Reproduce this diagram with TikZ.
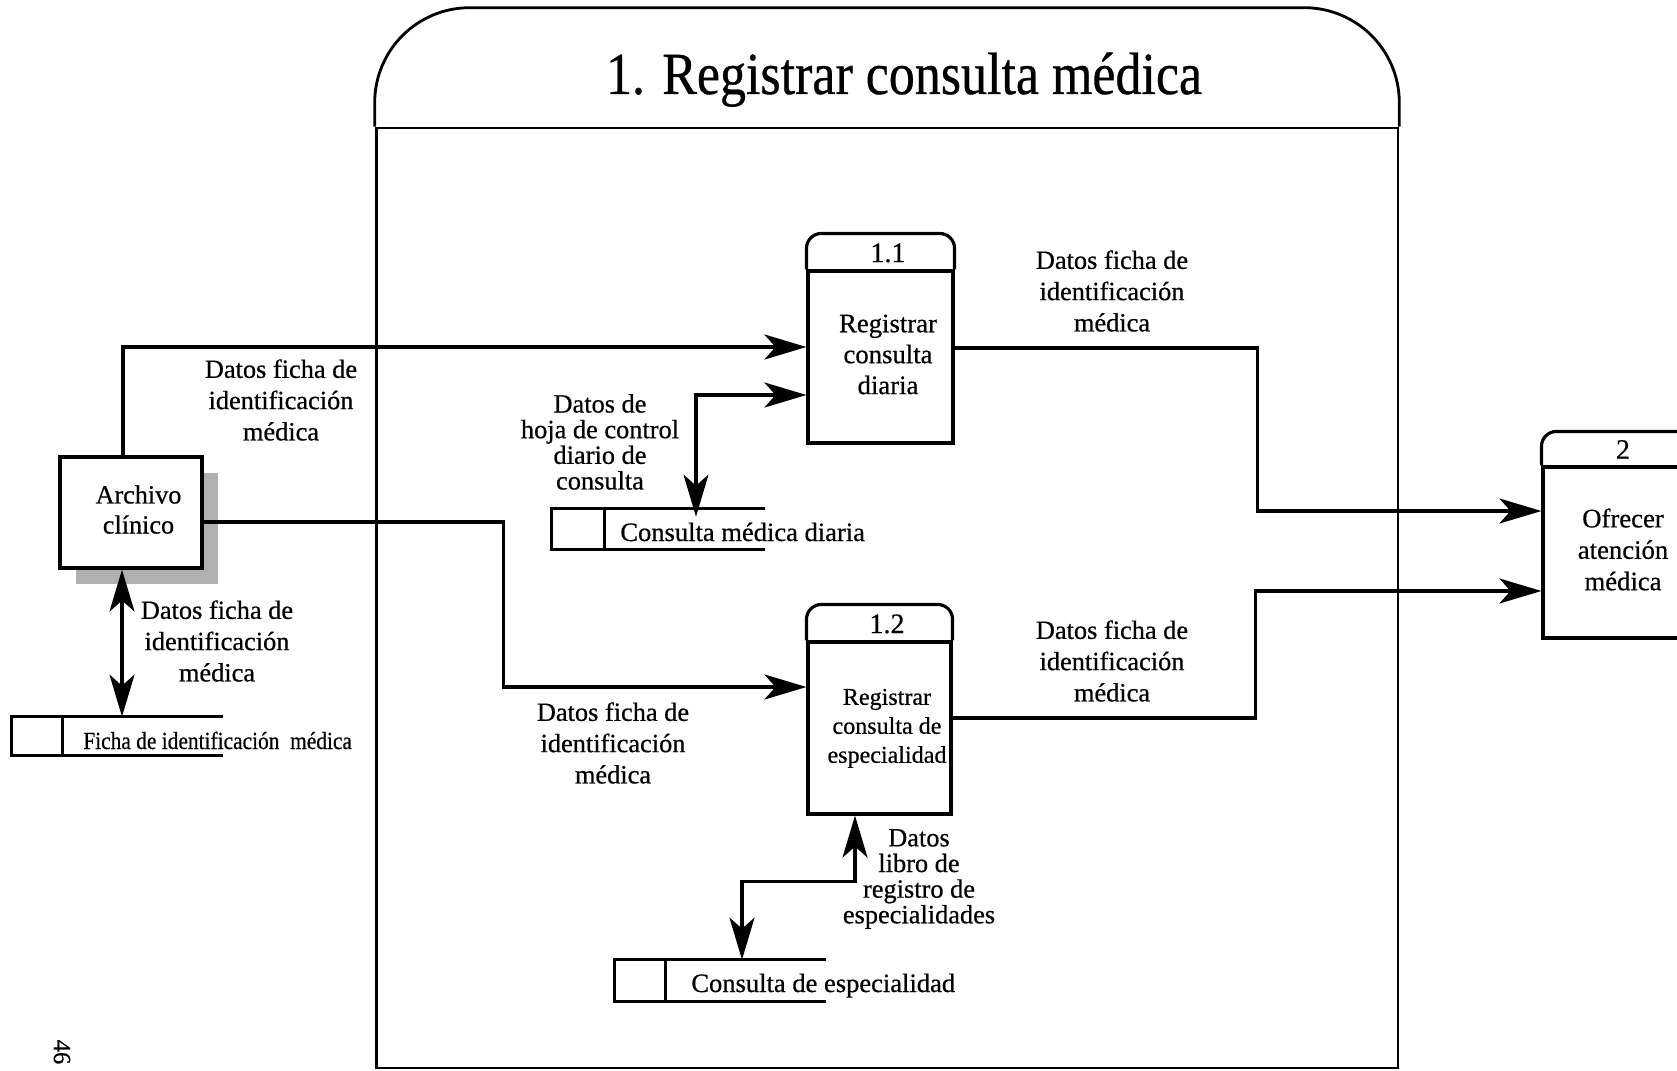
\documentclass[tikz,border=0pt]{standalone}
\usepackage{fontspec}
\setmainfont{Liberation Serif}[FakeBold=0.6]
\usepackage{graphicx}
\usetikzlibrary{arrows.meta,shadows}

% centred block of lines, nudged slightly to the right inside its box
\newcommand{\boxlines}[1]{\hspace*{0.3cm}\begin{tabular}{@{}c@{}}#1\end{tabular}}

\begin{document}
\begin{tikzpicture}[x=0.02cm,y=-0.02cm,
  >={Stealth[length=0.84cm,width=0.5cm,inset=0.22cm]},
  flow/.style={line width=1.8pt,->},
  flowboth/.style={line width=1.8pt,<->},
  box/.style={draw,line width=1.8pt,inner sep=0pt},
  hdr/.style={line width=1.8pt},
  lbl/.style={align=center,inner sep=0pt,font=\fontsize{15}{17.8}\selectfont},
  lbltight/.style={align=center,inner sep=0pt,font=\fontsize{15}{14.6}\selectfont},
  storeline/.style={line width=1.8pt},
  storebox/.style={draw=none,inner sep=0pt},
  storetext/.style={anchor=base west,inner sep=0pt,font=\fontsize{15.1}{18}\selectfont},
  num/.style={inner sep=0pt,font=\fontsize{16}{18}\selectfont},
]
\useasboundingbox (0,0) rectangle (1677,1071);
\clip (0,0) rectangle (1677,1071);

% process 1 frame
\node[draw, line width=1.6pt, minimum width=20.44cm, minimum height=18.8cm, inner sep=0pt] (c1) at (887,598) {};
\draw[line width=1.6pt] (c1.north west) -- ([yshift=0.48cm]c1.north west)
  arc[start angle=180,end angle=90,radius=1.9cm]
  -- ([xshift=-1.9cm,yshift=2.38cm]c1.north east)
  arc[start angle=90,end angle=0,radius=1.9cm] -- (c1.north east);
\node[anchor=base, inner sep=0pt, font=\fontsize{34}{40}\selectfont] (title) at (904,94)
  {\scalebox{0.87}[1]{1. Registrar consulta médica}};

% process 1.1
\node[box, minimum width=2.9cm, minimum height=3.44cm, font=\fontsize{15.2}{17.6}\selectfont] (p11) at (880.5,357)
  {\boxlines{Registrar\\consulta\\diaria}};
\draw[hdr] (p11.north west) -- ([yshift=0.42cm]p11.north west)
  arc[start angle=180,end angle=90,radius=0.3cm]
  -- ([xshift=-0.3cm,yshift=0.72cm]p11.north east)
  arc[start angle=90,end angle=0,radius=0.3cm] -- (p11.north east);
\node[num] (n11) at ([xshift=0.15cm,yshift=0.33cm]p11.north) {1.1};

% process 1.2
\node[box, minimum width=2.86cm, minimum height=3.44cm, font=\fontsize{13.7}{16.5}\selectfont] (p12) at (879.5,728)
  {\boxlines{Registrar\\consulta de\\especialidad}};
\draw[hdr] (p12.north west) -- ([yshift=0.42cm]p12.north west)
  arc[start angle=180,end angle=90,radius=0.3cm]
  -- ([xshift=-0.3cm,yshift=0.72cm]p12.north east)
  arc[start angle=90,end angle=0,radius=0.3cm] -- (p12.north east);
\node[num] (n12) at ([xshift=0.15cm,yshift=0.33cm]p12.north) {1.2};

% process 2
\node[box, minimum width=3.2cm, minimum height=3.42cm, font=\fontsize{15.2}{17.9}\selectfont] (p2) at (1623,552.5)
  {\begin{tabular}{@{}c@{}}Ofrecer\\atención\\médica\end{tabular}};
\draw[hdr] (p2.north west) -- ([yshift=0.38cm]p2.north west)
  arc[start angle=180,end angle=90,radius=0.3cm]
  -- ([xshift=-0.3cm,yshift=0.68cm]p2.north east)
  arc[start angle=90,end angle=0,radius=0.3cm] -- (p2.north east);
\node[num] (n2) at ([yshift=0.32cm]p2.north) {2};

% external entity
\node[box, fill=white, minimum width=2.84cm, minimum height=2.22cm,
  drop shadow={shadow xshift=0.32cm,shadow yshift=-0.32cm,fill=gray!62,opacity=1},
  font=\fontsize{14.9}{17.1}\selectfont] (arch) at (131,512.5) {\boxlines{Archivo\\clínico}};

% data stores
\node[storebox, minimum width=4.22cm, minimum height=0.76cm] (fic) at (117.5,736) {};
\draw[storeline] (fic.north east) -- (fic.north west) -- (fic.south west) -- (fic.south east);
\draw[storeline] ([xshift=1.02cm]fic.north west) -- ([xshift=1.02cm]fic.south west);
\node[storetext, font=\fontsize{14}{16}\selectfont] (ficT) at (83,749)
  {\scalebox{0.87}[1]{Ficha de identificación \ médica}};

\node[storebox, minimum width=4.26cm, minimum height=0.8cm] (di) at (658.5,529) {};
\draw[storeline] (di.north east) -- (di.north west) -- (di.south west) -- (di.south east);
\draw[storeline] ([xshift=1.06cm]di.north west) -- ([xshift=1.06cm]di.south west);
\node[storetext] (diT) at (620,541) {Consulta médica diaria};

\node[storebox, minimum width=4.22cm, minimum height=0.82cm] (es) at (720.5,980.5) {};
\draw[storeline] (es.north east) -- (es.north west) -- (es.south west) -- (es.south east);
\draw[storeline] ([xshift=1.02cm]es.north west) -- ([xshift=1.02cm]es.south west);
\node[storetext] (esT) at (691,992) {Consulta de especialidad};

% data flows
\draw[flow] ([xshift=-0.16cm]arch.north) |- ([yshift=0.2cm]p11.west);
\draw[flow] ([yshift=-0.19cm]arch.east) -- ++(300,0) |- ([yshift=0.82cm]p12.west);
\draw[flowboth] ([xshift=-0.18cm]arch.south) -- ([xshift=-0.18cm]arch.south |- fic.north);
\draw[flowboth] ([yshift=-0.76cm]p11.west) -| ([xshift=0.75cm,yshift=-0.16cm]di.north);
\draw[flowboth] ([xshift=-0.49cm]p12.south) -- ++(0,66) -| ([xshift=0.43cm]es.north);
\draw[flow] ([yshift=0.18cm]p11.east) -- ++(303,0) |- ([yshift=0.83cm]p2.west);
\draw[flow] ([yshift=0.2cm]p12.east) -- ++(303,0) |- ([yshift=-0.77cm]p2.west);

% flow labels
\node[lbl] (l1) at (281,400) {Datos ficha de\\identificación\\médica};
\node[lbl] (l2) at (613,743) {Datos ficha de\\identificación\\médica};
\node[lbl] (l3) at (217,641) {Datos ficha de\\identificación\\médica};
\node[lbltight] (l4) at (600,442) {Datos de\\hoja de control\\diario de\\consulta};
\node[lbltight] (l5) at (919,879) {Datos\\libro de\\registro de\\especialidades};
\node[lbl] (l6) at (1112,291) {Datos ficha de\\identificación\\médica};
\node[lbl] (l7) at (1112,661) {Datos ficha de\\identificación\\médica};

% page number
\node[rotate=-90, inner sep=0pt, font=\fontsize{14}{16}\selectfont] (pg) at (62,1052) {46};
\end{tikzpicture}
\end{document}
